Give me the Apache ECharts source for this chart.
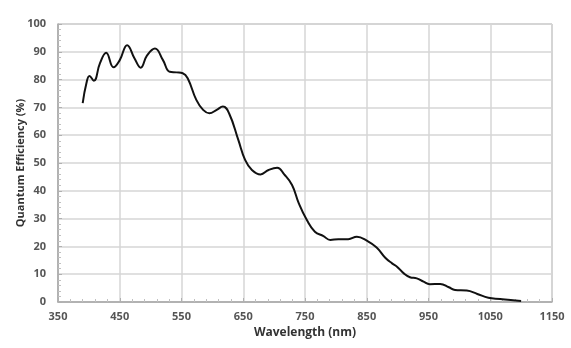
<!DOCTYPE html>
<html>
<head>
<meta charset="utf-8">
<script src="https://cdn.jsdelivr.net/npm/echarts@6/dist/echarts.min.js"></script>
<style>
  html, body { margin: 0; padding: 0; background: #ffffff; }
  #chart { width: 571px; height: 348px; }
</style>
</head>
<body>
<div id="chart"></div>
<script>
// Spectral response: wavelength (nm) and quantum efficiency (%)
const wavelengths = [390, 396, 401, 408, 418, 428, 440, 450, 462, 474, 484, 494, 507, 520, 531, 542, 552, 560, 574, 585, 595, 607, 617, 627, 642, 653, 664, 678, 691, 705, 716, 729, 740, 753, 766, 780, 791, 804, 820, 834, 850, 866, 880, 891, 899, 910, 920, 931, 942, 952, 969, 983, 993, 1012, 1029, 1047, 1066, 1083, 1100];
const quantumEfficiency = [71.5, 78.7, 81.3, 79.6, 85.9, 89.7, 84.4, 87.0, 92.4, 87.6, 84.3, 88.6, 91.2, 87.0, 82.8, 82.6, 82.3, 80.5, 72.7, 69.1, 67.9, 69.1, 70.3, 67.9, 58.3, 51.1, 47.5, 45.9, 47.5, 48.3, 46.0, 42.1, 35.5, 29.5, 25.3, 23.7, 22.3, 22.6, 22.6, 23.5, 22.1, 19.6, 15.9, 13.9, 12.7, 10.3, 8.9, 8.5, 7.3, 6.4, 6.5, 5.3, 4.3, 4.1, 2.9, 1.5, 1.1, 0.7, 0.4];
const xTicks = { min: 350, max: 1150, step: 100 };
const yTicks = { min: 0, max: 100, step: 10 };

const points = wavelengths.map((w, i) => [w, quantumEfficiency[i]]);

const labelStyle = {
  color: '#555555',
  fontFamily: 'Open Sans',
  fontWeight: 'bold',
  fontSize: 11
};
const nameStyle = {
  color: '#333333',
  fontFamily: 'Open Sans',
  fontWeight: 'bold',
  fontSize: 11
};

const chart = echarts.init(document.getElementById('chart'), null, { renderer: 'canvas' });
chart.setOption({
  animation: false,
  backgroundColor: '#ffffff',
  grid: {
    left: 58, right: 19, top: 24, bottom: 46,
    show: true, borderColor: '#a6a6a6', borderWidth: 1
  },
  xAxis: {
    type: 'value',
    min: xTicks.min, max: xTicks.max, interval: xTicks.step,
    name: 'Wavelength (nm)',
    nameLocation: 'middle',
    nameGap: 25,
    nameMoveOverlap: false,
    nameTextStyle: Object.assign({}, nameStyle, { fontSize: 12 }),
    axisLine: { show: true, lineStyle: { color: '#a6a6a6', width: 1.5 } },
    axisTick: { show: true, inside: true, length: 4, lineStyle: { color: '#b0b0b0' } },
    minorTick: { show: true, splitNumber: 5, length: 3, lineStyle: { color: '#c0c0c0' } },
    axisLabel: Object.assign({ margin: 9, formatter: v => String(v) }, labelStyle),
    splitLine: { show: true, lineStyle: { color: '#d6d6d6', width: 1.5 } }
  },
  yAxis: {
    type: 'value',
    min: yTicks.min, max: yTicks.max, interval: yTicks.step,
    name: 'Quantum Efficiency (%)',
    nameLocation: 'middle',
    nameGap: 32,
    nameMoveOverlap: false,
    nameTextStyle: nameStyle,
    axisLine: { show: true, lineStyle: { color: '#a6a6a6', width: 1.5 } },
    axisTick: { show: true, inside: true, length: 4, lineStyle: { color: '#b0b0b0' } },
    minorTick: { show: true, splitNumber: 5, length: 3, lineStyle: { color: '#c0c0c0' } },
    axisLabel: Object.assign({ margin: 12, formatter: v => String(v) }, labelStyle),
    splitLine: { show: true, lineStyle: { color: '#d6d6d6', width: 1.5 } }
  },
  series: [{
    type: 'line',
    data: points,
    smooth: 0.45,
    showSymbol: false,
    lineStyle: { color: '#111111', width: 2 }
  }]
});
</script>
</body>
</html>
